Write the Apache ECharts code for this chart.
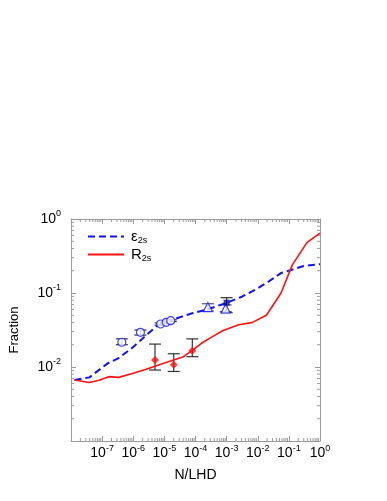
<!DOCTYPE html>
<html><head><meta charset="utf-8">
<script src="https://cdn.jsdelivr.net/npm/echarts@6/dist/echarts.min.js"></script>
<style>html,body{margin:0;padding:0;background:#fff}#c{width:387px;height:501px}</style>
</head><body><div id="c"></div>
<script>
// Blue dashed curve (epsilon_2s)
const epsX = [1.3e-8, 3.9e-8, 1.5e-7, 3.4e-7, 1e-6, 2.6e-6, 5.4e-6, 2e-5, 8.3e-5, 2.5e-4, 1.2e-3, 3.1e-3, 8.1e-3, 0.0214, 0.056, 0.115, 0.30, 1.0];
const epsY = [0.00667, 0.00724, 0.0112, 0.0132, 0.0186, 0.0269, 0.0351, 0.0442, 0.0537, 0.0603, 0.0759, 0.0891, 0.110, 0.141, 0.186, 0.204, 0.232, 0.245];
// Red solid curve (R_2s)
const rX = [1.3e-8, 3.9e-8, 7.9e-8, 1.66e-7, 3.4e-7, 1e-6, 2.6e-6, 9.5e-6, 4.1e-5, 8.3e-5, 1.55e-4, 3.5e-4, 7.4e-4, 2.45e-3, 6.5e-3, 0.019, 0.056, 0.129, 0.38, 1.0];
const rY = [0.00667, 0.00617, 0.00661, 0.00741, 0.00724, 0.00822, 0.00933, 0.0112, 0.0138, 0.0170, 0.0209, 0.0257, 0.0309, 0.0372, 0.0398, 0.0501, 0.1, 0.24, 0.479, 0.646];
// Open circles with error bars
const circX = [4.3e-7, 1.7e-6, 7.6e-6, 1.15e-5, 1.6e-5];
const circY = [0.0216, 0.0294, 0.0381, 0.0402, 0.0423];
const circLo = [0.0200, 0.0270, 0.0368, 0.0390, 0.0411];
const circHi = [0.0240, 0.0316, 0.0394, 0.0414, 0.0435];
// Open triangles with error bars
const triX = [2.5e-4, 9.3e-4];
const triY = [0.0646, 0.0617];
const triLo = [0.0571, 0.0560];
const triHi = [0.0716, 0.0690];
// Filled square
const sqX = [1.0e-3];
const sqY = [0.0741];
const sqLo = [0.0542];
const sqHi = [0.0865];
// Red diamonds with error bars
const diaX = [5.0e-6, 2.0e-5, 7.9e-5];
const diaY = [0.01245, 0.0107, 0.0166];
const diaLo = [0.0091, 0.0087, 0.0138];
const diaHi = [0.0204, 0.0151, 0.0240];

const XMIN = 1e-8, XMAX = 1, YMIN = 1e-3, YMAX = 1;
const FONT = 'Liberation Sans, Arial, sans-serif';
const AX = '#9a9a9a';

const zip = (a, b) => a.map((v, i) => [v, b[i]]);
const errData = (x, y, lo, hi) => x.map((v, i) => [v, y[i], lo[i], hi[i]]);

// minor tick positions (2..9 within each decade) for the frame
const minorTicks = [];
for (let e = -8; e < 0; e++) for (let m = 2; m <= 9; m++) { minorTicks.push([m * Math.pow(10, e), 0]); minorTicks.push([m * Math.pow(10, e), 1]); }
for (let e = -3; e < 0; e++) for (let m = 2; m <= 9; m++) { minorTicks.push([m * Math.pow(10, e), 2]); minorTicks.push([m * Math.pow(10, e), 3]); }

const supLabel = v => { const e = Math.round(Math.log10(v)); return '{b|10}{s|' + (e === 0 ? '0' : '-' + Math.abs(e)) + '}'; };
const labelRich = { b: { fontSize: 14, fontFamily: FONT, color: '#000' }, s: { fontSize: 9, fontFamily: FONT, color: '#000', padding: [0, 0, 10, 0] } };

function errRender(capW, color) {
  return function (params, api) {
    const x = api.value(0), lo = api.value(2), hi = api.value(3);
    const p1 = api.coord([x, hi]), p2 = api.coord([x, lo]);
    const st = { stroke: color, lineWidth: 1.2 };
    return { type: 'group', children: [
      { type: 'line', shape: { x1: p1[0], y1: p1[1], x2: p2[0], y2: p2[1] }, style: st },
      { type: 'line', shape: { x1: p1[0] - capW, y1: p1[1], x2: p1[0] + capW, y2: p1[1] }, style: st },
      { type: 'line', shape: { x1: p2[0] - capW, y1: p2[1], x2: p2[0] + capW, y2: p2[1] }, style: st }
    ]};
  };
}

const chart = echarts.init(document.getElementById('c'), null, { renderer: 'canvas' });
const xBase = {
  type: 'log', min: XMIN, max: XMAX, logBase: 10, splitNumber: 8,
  axisLine: { show: true, lineStyle: { color: AX, width: 1 } },
  axisTick: { show: true, inside: true, length: 5, lineStyle: { color: AX } },
  splitLine: { show: false }
};
const yBase = {
  type: 'log', min: YMIN, max: YMAX, logBase: 10, splitNumber: 3,
  axisLine: { show: true, lineStyle: { color: AX, width: 1 } },
  axisTick: { show: true, inside: true, length: 5, lineStyle: { color: AX } },
  splitLine: { show: false }
};
chart.setOption({
  animation: false,
  backgroundColor: '#fff',
  grid: { left: 65, right: 67, top: 219, bottom: 60, containLabel: false },
  legend: {
    data: ['eps', 'R'], orient: 'vertical', left: 82, top: 224,
    itemWidth: 36, itemHeight: 16, itemGap: 2,
    itemStyle: { opacity: 0, borderWidth: 0 },
    formatter: n => n === 'eps' ? '{m|ε}{u|2s}' : '{m|R}{u|2s}',
    textStyle: { padding: [0, 0, 0, 2], rich: {
      m: { fontSize: 15, fontFamily: FONT, color: '#000' },
      u: { fontSize: 9, fontFamily: FONT, color: '#000', padding: [8, 0, 0, 0] } } }
  },
  xAxis: [
    Object.assign({}, xBase, { position: 'bottom', name: 'N/LHD', nameLocation: 'middle', nameGap: 27,
      nameTextStyle: { fontSize: 14, fontFamily: FONT, color: '#000' },
      axisLabel: { show: true, showMinLabel: false, margin: 3, formatter: supLabel, rich: labelRich } }),
    Object.assign({}, xBase, { position: 'top', axisLabel: { show: false } })
  ],
  yAxis: [
    Object.assign({}, yBase, { position: 'left', name: 'Fraction', nameLocation: 'middle', nameGap: 50,
      nameTextStyle: { fontSize: 13, fontFamily: FONT, color: '#000' },
      axisLabel: { show: true, showMinLabel: false, margin: 10, formatter: supLabel, rich: labelRich } }),
    Object.assign({}, yBase, { position: 'right', axisLabel: { show: false } })
  ],
  series: [
    { type: 'custom', name: 'ticks', silent: true, clip: false, data: minorTicks,
      renderItem: (params, api) => {
        const v = api.value(0), side = api.value(1);
        let a, b;
        if (side === 0) { a = api.coord([v, YMIN]); b = [a[0], a[1] - 3]; }
        else if (side === 1) { a = api.coord([v, YMAX]); b = [a[0], a[1] + 3]; }
        else if (side === 2) { a = api.coord([XMIN, v]); b = [a[0] + 3, a[1]]; }
        else { a = api.coord([XMAX, v]); b = [a[0] - 3, a[1]]; }
        return { type: 'line', shape: { x1: a[0], y1: a[1], x2: b[0], y2: b[1] }, style: { stroke: AX, lineWidth: 1 } };
      } },
    { type: 'line', name: 'eps', data: zip(epsX, epsY), symbol: 'none', smooth: false,
      lineStyle: { color: '#1010ff', width: 2, type: [7, 4] }, itemStyle: { color: '#1010ff' } },
    { type: 'line', name: 'R', data: zip(rX, rY), symbol: 'none', smooth: false,
      lineStyle: { color: '#ff1010', width: 1.6 }, itemStyle: { color: '#ff1010' } },
    { type: 'custom', name: 'circErr', data: errData(circX, circY, circLo, circHi), renderItem: errRender(6, '#333'), z: 3 },
    { type: 'custom', name: 'triErr', data: errData(triX, triY, triLo, triHi), renderItem: errRender(6, '#555'), z: 3 },
    { type: 'custom', name: 'sqErr', data: errData(sqX, sqY, sqLo, sqHi), renderItem: errRender(6, '#333'), z: 3 },
    { type: 'custom', name: 'diaErr', data: errData(diaX, diaY, diaLo, diaHi), renderItem: errRender(6, '#333'), z: 3 },
    { type: 'scatter', name: 'circ', data: zip(circX, circY), symbol: 'circle', symbolSize: 8, z: 4,
      itemStyle: { color: '#fff', borderColor: '#1010ff', borderWidth: 1.2 } },
    { type: 'scatter', name: 'tri', data: zip(triX, triY), symbol: 'triangle', symbolSize: 9, z: 4,
      itemStyle: { color: '#fff', borderColor: '#1010ff', borderWidth: 1.2 } },
    { type: 'scatter', name: 'sq', data: zip(sqX, sqY), symbol: 'rect', symbolSize: 6, z: 5,
      itemStyle: { color: '#0a0aa0' } },
    { type: 'scatter', name: 'dia', data: zip(diaX, diaY), symbol: 'diamond', symbolSize: 8, z: 4,
      itemStyle: { color: '#ff1010' } }
  ]
});
</script></body></html>
